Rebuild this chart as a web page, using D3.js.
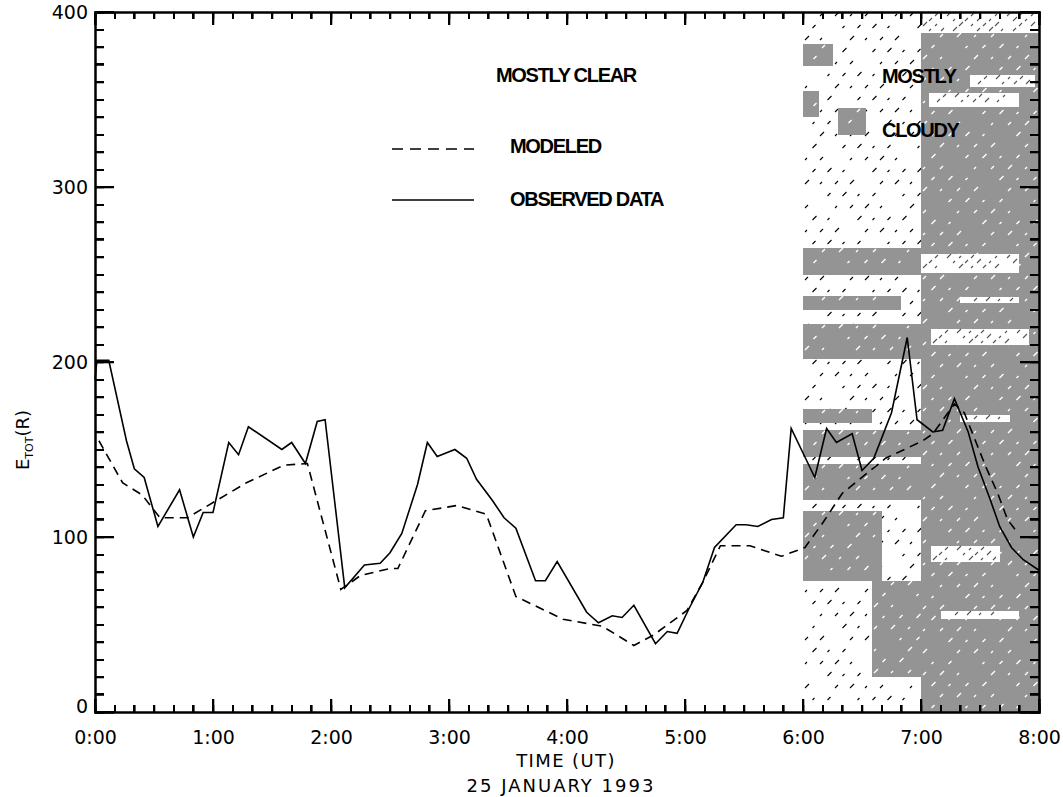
<!DOCTYPE html>
<html>
<head>
<meta charset="utf-8">
<script src="https://cdnjs.cloudflare.com/ajax/libs/d3/7.8.5/d3.min.js"></script>
</head>
<body style="margin:0; background:#fff">
<div id="chart"></div>
<script>
// observed data, time in minutes after 0:00 UT
var obsTime = [0, 1, 7, 16, 20, 25, 32, 43, 50, 55, 60, 68, 73, 78, 95, 100, 107, 113, 117, 127,
    137, 145, 150, 156, 164, 169, 174, 183, 189, 194, 202, 208, 214, 224, 229, 235, 250, 256, 263, 268,
    274, 285, 291, 296, 302, 309, 315, 326, 331, 337, 344, 350, 354, 366, 372, 377, 385, 390, 396, 405,
    413, 418, 426, 431, 437, 444, 449, 455, 460, 466, 472, 480];
var obsValue = [190, 201, 201, 155, 139, 134, 106, 127, 100, 114, 114, 154, 147, 163, 150, 154, 142, 166, 167, 71,
    84, 85, 91, 102, 130, 154, 146, 150, 145, 133, 121, 111, 105, 75, 75, 86, 57, 51, 55, 54,
    61, 39, 46, 45, 59, 74, 94, 107, 107, 106, 110, 111, 162, 134, 162, 154, 159, 138, 145, 171,
    214, 167, 160, 161, 179, 160, 140, 122, 106, 94, 87, 81];

// modeled values
var modTime = [2, 14, 24, 33, 47, 62, 77, 96, 108, 125, 135, 150, 154, 168, 184, 199, 214, 238, 258, 274,
    284, 301, 309, 318, 333, 349, 361, 370, 380, 402, 421, 426, 437, 442, 453, 459, 464, 468];
var modValue = [155, 131, 124, 111, 111, 121, 131, 141, 142, 70, 78, 82, 82, 115, 118, 113, 66, 53, 49, 38,
    44, 58, 74, 95, 95, 89, 94, 108, 125, 145, 155, 159, 176, 171, 140, 125, 110, 104];

var hourTicks = [0, 60, 120, 180, 240, 300, 360, 420, 480];
var hourLabels = ["0:00", "1:00", "2:00", "3:00", "4:00", "5:00", "6:00", "7:00", "8:00"];
var yTicks = [0, 100, 200, 300, 400];

// cloud cover texture: [t0, t1, v0, v1]
var cloudyBlock = [360, 480, 0, 400];
var denseLeft = [[360, 420, 250, 265], [360, 410, 230, 238], [360, 420, 202, 222], [360, 395, 165, 173],
    [360, 420, 146, 161], [360, 420, 121, 142], [360, 400, 75, 115], [395, 420, 20, 75],
    [360, 375, 369, 382], [360, 368, 340, 355], [378, 392, 330, 345]];
var denseRight = [[420, 480, 0, 388]];
var clearStreaks = [[420, 480, 388, 400], [424, 470, 346, 354], [445, 478, 357, 364], [420, 470, 251, 262],
    [440, 470, 234, 237], [425, 475, 210, 219], [440, 465, 166, 170], [425, 460, 86, 95], [430, 470, 53, 58]];

// STEP 1: canvas
var svgWidth = 1063;
var svgHeight = 797;

var svg = d3.select("#chart")
    .append("svg")
    .attr("width", svgWidth)
    .attr("height", svgHeight);

var xScale = d3.scaleLinear().domain([0, 480]).range([95, 1039]);
var yScale = d3.scaleLinear().domain([0, 400]).range([712, 12]);

// STEP 2: cloudy area (gray blocks + short speckle strokes)
function block(d) {
    return {
        x: Math.round(xScale(d[0])),
        y: Math.round(yScale(d[3])),
        w: Math.round(xScale(d[1])) - Math.round(xScale(d[0])),
        h: Math.round(yScale(d[2])) - Math.round(yScale(d[3]))
    };
}

// regular lattice of small diagonal strokes inside a block
function speckles(list, dx, dy, color, width) {
    var p = d3.path();
    list.map(block).forEach(function(b) {
        var row = 0;
        for (var y = b.y + 4; y < b.y + b.h - 1; y += dy, row++) {
            var col = 0;
            for (var x = b.x + 2 + (row % 2) * dx / 2; x < b.x + b.w - 4; x += dx, col++) {
                if ((row * 3 + col * 2) % 5 === 0) continue;
                var len = 2 + (row + col) % 3;
                p.moveTo(x, y);
                p.lineTo(x + len, y - len);
            }
        }
    });
    svg.append("path")
        .attr("d", p.toString())
        .attr("fill", "none")
        .attr("stroke", color)
        .attr("stroke-width", width);
}

function drawRects(list, fill) {
    svg.append("g")
        .selectAll("rect")
        .data(list.map(block))
        .enter()
        .append("rect")
        .attr("x", d => d.x)
        .attr("y", d => d.y)
        .attr("width", d => d.w)
        .attr("height", d => d.h)
        .attr("fill", fill);
}

speckles([cloudyBlock], 15, 12, "#000", 1.1);
drawRects(denseLeft, "#949494");
drawRects(denseRight, "#949494");
speckles(denseLeft.concat(denseRight), 17, 11, "#fff", 1.4);
drawRects(clearStreaks, "#fff");
speckles(clearStreaks, 12, 5, "#555", 1.1);

// STEP 3: lines
var line = d3.line()
    .x(d => xScale(d[0]))
    .y(d => yScale(d[1]));

svg.append("path")
    .datum(modTime.map((t, i) => [t, modValue[i]]))
    .attr("d", line)
    .attr("fill", "none")
    .attr("stroke", "#000")
    .attr("stroke-width", 1.6)
    .attr("stroke-dasharray", "9,6");

svg.append("path")
    .datum(obsTime.map((t, i) => [t, obsValue[i]]))
    .attr("d", line)
    .attr("fill", "none")
    .attr("stroke", "#000")
    .attr("stroke-width", 1.6);

// STEP 4: axes, ticks point inward on all four sides
var minutes10 = d3.range(0, 481, 10);
var values10 = d3.range(0, 401, 10);

function addAxis(axis, transform) {
    var g = svg.append("g")
        .attr("transform", transform)
        .call(axis);
    g.select(".domain").attr("stroke", "#000").attr("stroke-width", 2);
    g.selectAll(".tick line").attr("stroke", "#000").attr("stroke-width", 1.6);
    g.selectAll(".tick text")
        .attr("font-family", "DejaVu Sans, sans-serif")
        .attr("font-size", 19)
        .attr("fill", "#000");
    return g;
}

addAxis(d3.axisBottom(xScale).tickValues(minutes10).tickSize(-7).tickFormat(""), "translate(0,712)");
addAxis(d3.axisBottom(xScale).tickValues(hourTicks).tickSize(-13).tickPadding(19)
    .tickFormat((d, i) => hourLabels[i]), "translate(0,712)");
addAxis(d3.axisTop(xScale).tickValues(minutes10).tickSize(-7).tickFormat(""), "translate(0,12)");
addAxis(d3.axisTop(xScale).tickValues(hourTicks).tickSize(-13).tickFormat(""), "translate(0,12)");
addAxis(d3.axisLeft(yScale).tickValues(values10).tickSize(-9).tickFormat(""), "translate(95,0)");
var leftAxis = addAxis(d3.axisLeft(yScale).tickValues(yTicks).tickSize(-19).tickPadding(7)
    .tickFormat(d3.format("d")), "translate(95,0)");
addAxis(d3.axisRight(yScale).tickValues(values10).tickSize(-9).tickFormat(""), "translate(1039,0)");
addAxis(d3.axisRight(yScale).tickValues(yTicks).tickSize(-19).tickFormat(""), "translate(1039,0)");

// zero label sits a little above the axis
leftAxis.selectAll(".tick text")
    .filter(d => d === 0)
    .attr("y", -6);

// STEP 5: axis titles
svg.append("text")
    .attr("x", 566)
    .attr("y", 767)
    .attr("text-anchor", "middle")
    .attr("font-family", "DejaVu Sans, sans-serif")
    .attr("font-size", 18)
    .attr("letter-spacing", 1.4)
    .text("TIME (UT)");

svg.append("text")
    .attr("x", 561)
    .attr("y", 792)
    .attr("text-anchor", "middle")
    .attr("font-family", "DejaVu Sans, sans-serif")
    .attr("font-size", 18)
    .attr("letter-spacing", 2)
    .text("25 JANUARY 1993");

var yTitle = svg.append("text")
    .attr("transform", "translate(29,440) rotate(-90)")
    .attr("text-anchor", "middle")
    .attr("font-family", "DejaVu Sans, sans-serif")
    .attr("font-size", 18);
yTitle.append("tspan").text("E");
yTitle.append("tspan").attr("font-size", 11).attr("dy", 4).text("TOT");
yTitle.append("tspan").attr("dy", -4).text("(R)");

// STEP 6: annotations and legend
function label(x, y, txt) {
    svg.append("text")
        .attr("x", x)
        .attr("y", y)
        .attr("font-family", "Liberation Sans, Arial, sans-serif")
        .attr("font-weight", "bold")
        .attr("font-size", 20)
        .attr("letter-spacing", -1.3)
        .text(txt);
}

label(496, 82, "MOSTLY CLEAR");
label(882, 83, "MOSTLY");
label(882, 137, "CLOUDY");

svg.append("line")
    .attr("x1", 392).attr("x2", 474).attr("y1", 149).attr("y2", 149)
    .attr("stroke", "#000").attr("stroke-width", 1.6)
    .attr("stroke-dasharray", "11,7");
label(510, 153, "MODELED");

svg.append("line")
    .attr("x1", 392).attr("x2", 474).attr("y1", 200).attr("y2", 200)
    .attr("stroke", "#000").attr("stroke-width", 1.6);
label(510, 206, "OBSERVED DATA");

// STEP 7: tick marks again as pixel-aligned rects, drawn last
var tickMarks = svg.append("g").attr("fill", "#000");

function xTickRects(values, y0, len) {
    tickMarks.append("g")
        .selectAll("rect")
        .data(values)
        .enter()
        .append("rect")
        .attr("x", d => Math.round(xScale(d)) - 1)
        .attr("width", 2)
        .attr("y", Math.min(y0, y0 + len))
        .attr("height", Math.abs(len));
}

function yTickRects(values, x0, len) {
    tickMarks.append("g")
        .selectAll("rect")
        .data(values)
        .enter()
        .append("rect")
        .attr("y", d => Math.round(yScale(d)) - 1)
        .attr("height", 2)
        .attr("x", Math.min(x0, x0 + len))
        .attr("width", Math.abs(len));
}

xTickRects(minutes10, 712, -7);
xTickRects(hourTicks, 712, -13);
xTickRects(minutes10, 12, 7);
xTickRects(hourTicks, 12, 13);
yTickRects(values10, 95, 9);
yTickRects(yTicks, 95, 19);
yTickRects(values10, 1039, -9);
yTickRects(yTicks, 1039, -19);
</script>
</body>
</html>
